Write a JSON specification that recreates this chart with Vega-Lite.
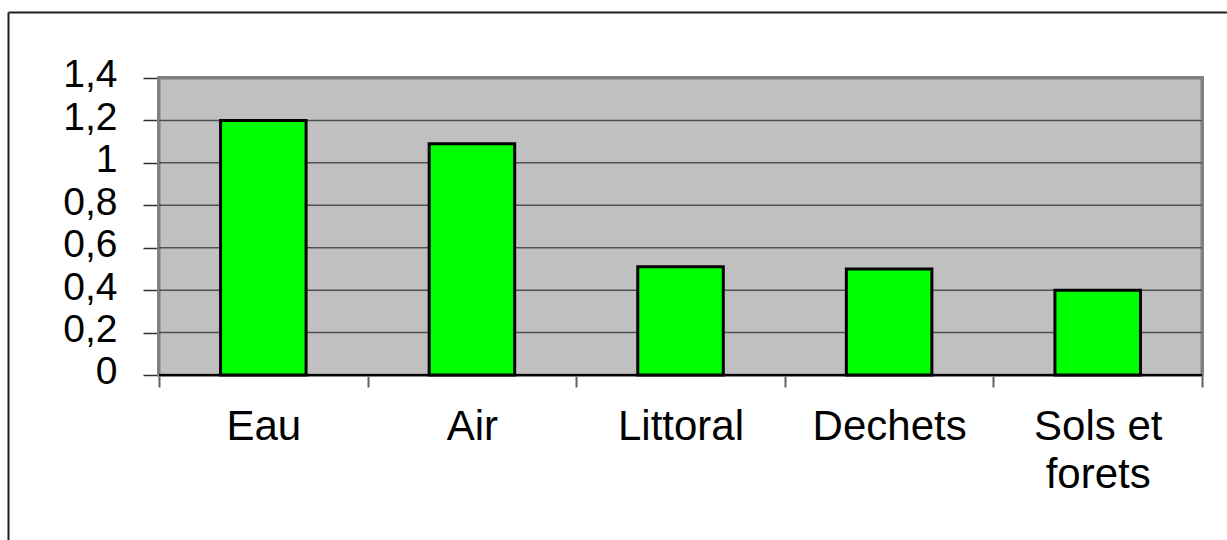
{
  "$schema": "https://vega.github.io/schema/vega-lite/v6.json",
  "autosize": "none",
  "padding": {"left": 8, "top": 12, "right": 0, "bottom": 0},
  "width": 1219,
  "height": 528,
  "background": "white",
  "config": {"font": "Liberation Sans", "view": {"stroke": null}},
  "datasets": {
    "principal": [
      {"categorie": "Eau", "valeur": 1.2},
      {"categorie": "Air", "valeur": 1.09},
      {"categorie": "Littoral", "valeur": 0.51},
      {"categorie": "Dechets", "valeur": 0.5},
      {"categorie": "Sols et forets", "valeur": 0.4}
    ],
    "grille": [{"g": 0.2}, {"g": 0.4}, {"g": 0.6}, {"g": 0.8}, {"g": 1.0}, {"g": 1.2}]
  },
  "data": {"name": "principal"},
  "layer": [
    {
      "mark": {"type": "bar", "fill": "#C0C0C0", "stroke": "#808080", "strokeWidth": 3, "width": {"band": 5}},
      "encoding": {
        "x": {
          "datum": "Littoral",
          "type": "nominal",
          "scale": {
            "domain": ["Eau", "Air", "Littoral", "Dechets", "Sols et forets"],
            "paddingInner": 0,
            "paddingOuter": 0.4219,
            "align": 0.858
          },
          "axis": {
            "orient": "top",
            "offset": 0,
            "title": null,
            "labels": false,
            "ticks": false,
            "grid": false,
            "domain": true,
            "domainColor": "#202020",
            "domainWidth": 2
          }
        },
        "y": {
          "datum": 0,
          "type": "quantitative",
          "scale": {"domain": [-0.7778, 1.7111], "nice": false, "zero": false},
          "axis": {
            "orient": "right",
            "offset": -1219,
            "title": null,
            "labels": false,
            "ticks": false,
            "grid": false,
            "domain": true,
            "domainColor": "#202020",
            "domainWidth": 2
          }
        },
        "y2": {"datum": 1.4}
      }
    },
    {
      "data": {"name": "grille"},
      "mark": {"type": "bar", "fillOpacity": 0, "stroke": "#505050", "strokeWidth": 1.5, "width": {"band": 5}},
      "encoding": {
        "x": {"datum": "Littoral", "type": "nominal", "axis": null},
        "y": {"field": "g", "type": "quantitative", "axis": null},
        "y2": {"field": "g"}
      }
    },
    {
      "mark": {"type": "bar", "fillOpacity": 0, "stroke": "black", "strokeWidth": 2, "width": {"band": 5}},
      "encoding": {
        "x": {"datum": "Littoral", "type": "nominal", "axis": null},
        "y": {"datum": 0, "type": "quantitative", "axis": null},
        "y2": {"datum": 0}
      }
    },
    {
      "mark": {"type": "bar", "fill": "#00FF00", "stroke": "black", "strokeWidth": 3, "width": {"band": 0.41}},
      "encoding": {
        "x": {
          "field": "categorie",
          "type": "nominal",
          "sort": null,
          "axis": {
            "orient": "bottom",
            "offset": -165,
            "title": null,
            "labelAngle": 0,
            "labelFontSize": 42,
            "labelColor": "black",
            "labelPadding": 19,
            "labelLineHeight": 48,
            "labelExpr": "datum.value == 'Sols et forets' ? ['Sols et', 'forets'] : datum.value",
            "domain": false,
            "tickBand": "extent",
            "tickColor": "#606060",
            "tickWidth": 2,
            "tickSize": 12,
            "grid": false
          }
        },
        "y": {
          "field": "valeur",
          "type": "quantitative",
          "axis": {
            "orient": "left",
            "offset": -151,
            "title": null,
            "values": [0, 0.2, 0.4, 0.6, 0.8, 1, 1.2, 1.4],
            "labelExpr": "replace(format(datum.value, '.1~f'), '.', ',')",
            "labelFontSize": 39,
            "labelColor": "black",
            "labelPadding": 26,
            "labelOffset": -3,
            "domain": false,
            "tickColor": "#303030",
            "tickWidth": 1.5,
            "tickSize": 16,
            "grid": false
          }
        }
      }
    }
  ]
}
